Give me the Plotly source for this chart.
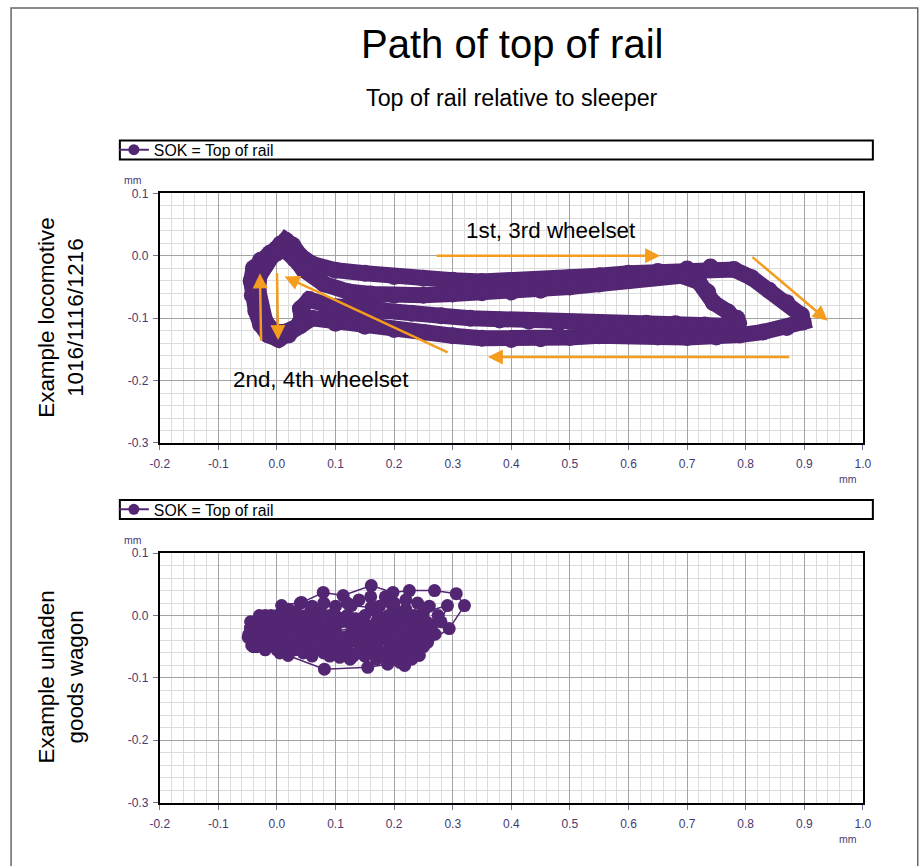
import plotly.graph_objects as go

# ---- Locomotive: path of top of rail (mm) ----
loco_x = [
    0.0, 0.006, 0.015, 0.027, 0.04, 0.06, 0.1, 0.15, 0.2, 0.25, 0.3, 0.35, 0.4,
    0.45, 0.5, 0.55, 0.6, 0.65, 0.7, 0.74, 0.78, 0.81, 0.84, 0.87, 0.895, 0.898,
    0.87, 0.83, 0.79, 0.75, 0.7, 0.65, 0.6, 0.55, 0.5, 0.45, 0.4, 0.35, 0.3,
    0.25, 0.2, 0.15, 0.1, 0.06,
    0.04, 0.02, 0.003, -0.015, -0.028, -0.036, -0.042, -0.044, -0.04, -0.028,
    -0.012, 0.0, 0.015, 0.03, 0.045,
    0.08, 0.12, 0.16, 0.2, 0.25, 0.3, 0.35, 0.4, 0.45, 0.5, 0.55, 0.6, 0.65, 0.69,
    0.72, 0.735, 0.745, 0.77, 0.785, 0.788, 0.765,
    0.73, 0.68, 0.63, 0.58, 0.53, 0.48, 0.43, 0.38, 0.33, 0.28, 0.23, 0.18, 0.13,
    0.09, 0.055,
    0.04, 0.042, 0.035, 0.015, -0.005, -0.02, -0.028, -0.032, -0.03, -0.02,
    -0.008, 0.0,
]
loco_y = [
    0.005, 0.019, 0.025, 0.017, 0.0, -0.013, -0.023, -0.028, -0.033, -0.036,
    -0.039, -0.041, -0.04, -0.038, -0.035, -0.032, -0.028, -0.025, -0.021,
    -0.018, -0.022, -0.035, -0.055, -0.075, -0.095, -0.106, -0.115, -0.122,
    -0.127, -0.13, -0.131, -0.13, -0.128, -0.128, -0.131, -0.133, -0.134,
    -0.132, -0.128, -0.123, -0.118, -0.113, -0.108, -0.1,
    -0.112, -0.127, -0.134, -0.127, -0.11, -0.088, -0.063, -0.04, -0.02, -0.007,
    0.004, 0.012, 0.008, -0.005, -0.022,
    -0.045, -0.057, -0.061, -0.063, -0.063, -0.061, -0.059, -0.058, -0.055,
    -0.05, -0.045, -0.04, -0.034, -0.032, -0.042, -0.058, -0.075, -0.09, -0.1,
    -0.108, -0.112,
    -0.111, -0.109, -0.108, -0.109, -0.111, -0.108, -0.105, -0.103, -0.1,
    -0.096, -0.092, -0.088, -0.085, -0.08, -0.07,
    -0.085, -0.1, -0.113, -0.122, -0.122, -0.105, -0.08, -0.055, -0.032,
    -0.015, 0.0, 0.005,
]

# ---- Unladen goods wagon: path of top of rail (mm) ----
wagon_x = [
    -0.045, -0.03, -0.01, 0.01, 0.04, 0.079, 0.113, 0.161, 0.198, 0.226, 0.269,
    0.306, 0.32, 0.294, 0.257, 0.243, 0.218, 0.189, 0.155, 0.081, 0.019, -0.02,
    -0.043,
    -0.049, -0.04, -0.02, 0.008, 0.042, 0.06, 0.09, 0.127, 0.161, 0.195, 0.22,
    0.25, 0.291, 0.28, 0.26, 0.235, 0.21, 0.18, 0.15, 0.107, 0.093, 0.06, 0.03,
    0.0, -0.03,
    -0.045, -0.035, -0.015, 0.01, 0.03, 0.05, 0.07, 0.1, 0.13, 0.16, 0.19, 0.21,
    0.235, 0.255, 0.27, 0.25, 0.225, 0.2, 0.17, 0.14, 0.12, 0.08, 0.05, 0.02,
    -0.01, -0.035,
    -0.04, -0.02, 0.0, 0.025, 0.05, 0.075, 0.1, 0.135, 0.17, 0.2, 0.22, 0.245,
    0.23, 0.205, 0.185, 0.2, 0.17, 0.14, 0.11, 0.075, 0.045, 0.015, -0.015,
    -0.04,
    -0.03, 0.0, 0.02, 0.06, 0.09, 0.12, 0.15, 0.175, 0.21, 0.24, 0.26, 0.23, 0.2,
    0.165, 0.13, 0.09, 0.06, 0.03, 0.0, -0.02, -0.045,
    -0.04, -0.025, -0.005, 0.015, 0.035, 0.055, 0.075, 0.095, 0.115, 0.135,
    0.155, 0.175, 0.195, 0.215, 0.235, 0.22, 0.2, 0.18, 0.16, 0.14, 0.12, 0.1,
    0.08, 0.06, 0.04, 0.02, 0.0, -0.02, -0.04,
    -0.045, -0.03, -0.01, 0.01, 0.03, 0.05, 0.07, 0.09, 0.11, 0.13, 0.15, 0.17,
    0.19, 0.21, 0.23, 0.215, 0.19, 0.165, 0.145, 0.125, 0.105, 0.085, 0.065,
    0.045, 0.025, 0.005, -0.015, -0.035, -0.048,
    -0.04, -0.02, 0.0, 0.02, 0.04, 0.06, 0.08, 0.1, 0.12, 0.14, 0.16, 0.18, 0.2,
    0.225, 0.24, 0.25, 0.23, 0.21, 0.19, 0.17, 0.15, 0.125, 0.105, 0.085, 0.065,
    0.045, 0.025, 0.005, -0.015, -0.035,
    0.2, 0.22, 0.24, 0.26, 0.275, 0.265, 0.25, 0.23, 0.24, 0.225, 0.205, 0.19,
    0.175, 0.16, 0.14, 0.12, 0.1, 0.08, 0.06, 0.04, 0.02, 0.0, -0.02,
]
wagon_y = [
    -0.02, -0.005, 0.0, 0.005, 0.02, 0.037, 0.032, 0.048, 0.037, 0.04, 0.04,
    0.035, 0.016, -0.021, -0.043, -0.064, -0.08, -0.078, -0.083, -0.086, -0.064,
    -0.05, -0.048,
    -0.035, -0.02, -0.01, 0.016, 0.021, -0.005, -0.01, 0.016, 0.013, 0.019, 0.01,
    0.005, 0.016, -0.01, -0.025, -0.04, -0.055, -0.06, -0.055, -0.067, -0.056,
    -0.05, -0.045, -0.04, -0.04,
    -0.03, -0.015, -0.02, -0.015, -0.02, -0.015, -0.02, -0.025, -0.02, -0.03,
    -0.02, -0.005, 0.0, -0.01, -0.03, -0.05, -0.06, -0.065, -0.07, -0.06, -0.045,
    -0.04, -0.035, -0.03, -0.035, -0.03,
    -0.04, -0.03, -0.025, -0.01, 0.0, 0.005, 0.0, -0.005, -0.01, -0.03, -0.04,
    -0.03, -0.015, 0.0, 0.03, 0.01, -0.045, -0.04, -0.05, -0.055, -0.06, -0.05,
    -0.045, -0.025,
    -0.01, -0.005, 0.0, 0.01, 0.0, -0.01, -0.015, -0.005, -0.02, -0.02, -0.035,
    -0.05, -0.045, -0.06, -0.065, -0.065, -0.06, -0.055, -0.055, -0.045, -0.02,
    -0.045, -0.05, -0.045, -0.04, -0.035, -0.04, -0.045, -0.04, -0.035, -0.03,
    -0.035, -0.04, -0.045, -0.05, -0.055, -0.065, -0.07, -0.065, -0.05, -0.045,
    -0.055, -0.06, -0.06, -0.065, -0.055, -0.06, -0.05, -0.055, -0.05,
    -0.01, 0.0, -0.01, -0.005, 0.005, -0.005, -0.01, -0.015, -0.01, -0.005, 0.0,
    0.005, 0.0, -0.01, -0.025, -0.035, -0.04, -0.025, -0.02, -0.03, -0.035,
    -0.03, -0.03, -0.025, -0.03, -0.035, -0.03, -0.04, -0.03,
    -0.015, -0.025, -0.015, -0.02, -0.01, -0.025, -0.015, -0.005, 0.0, -0.015,
    -0.02, -0.025, -0.01, -0.005, -0.01, -0.045, -0.07, -0.075, -0.055, -0.05,
    -0.065, -0.07, -0.05, -0.05, -0.045, -0.045, -0.05, -0.06, -0.04, -0.05,
    0.02, 0.025, 0.02, 0.015, 0.0, -0.015, -0.025, -0.035, -0.05, -0.045, -0.03,
    -0.015, 0.015, 0.03, 0.025, 0.02, 0.015, 0.02, 0.015, 0.0, 0.01, 0.0, 0.0,
]

# ---- Axis ticks ----
x_ticks = [-0.2, -0.1, 0.0, 0.1, 0.2, 0.3, 0.4, 0.5, 0.6, 0.7, 0.8, 0.9, 1.0]
x_tick_text = ["-0.2", "-0.1", "0.0", "0.1", "0.2", "0.3", "0.4", "0.5", "0.6",
               "0.7", "0.8", "0.9", "1.0"]
y_ticks = [0.1, 0.0, -0.1, -0.2, -0.3]
y_tick_text = ["0.1", "0.0", "-0.1", "-0.2", "-0.3"]

# Direction arrows on the locomotive panel: (tail_x, tail_y, head_x, head_y)
loco_arrows = [
    (0.270, 0.0, 0.654, 0.0),
    (0.809, 0.0, 0.940, -0.104),
    (0.877, -0.162, 0.360, -0.162),
    (0.294, -0.156, 0.013, -0.033),
    (-0.027, -0.138, -0.029, -0.028),
    (0.0, -0.025, 0.002, -0.135),
]

PURPLE = "#532673"
ORANGE = "#F39C1E"
TICK_COLOR = "#463a6e"
FONT = "Liberation Sans, Arial, sans-serif"

# Figure size; layout positions are given as page pixels and converted to
# paper fractions, allowing for the page body margin and the view scale.
W, H = 923, 866
BODY_MARGIN = 8
VIEW_SCALE = 0.982


def px_x(p):
    return (p / VIEW_SCALE - BODY_MARGIN) / W


def px_y(p):
    return 1 - (p / VIEW_SCALE - BODY_MARGIN) / H


fig = go.Figure()

fig.add_trace(go.Scatter(
    x=loco_x, y=loco_y, mode="lines+markers", xaxis="x", yaxis="y",
    line=dict(color=PURPLE, width=16),
    marker=dict(color=PURPLE, size=17),
    showlegend=False, hoverinfo="x+y",
))
fig.add_trace(go.Scatter(
    x=wagon_x, y=wagon_y, mode="lines+markers", xaxis="x2", yaxis="y2",
    line=dict(color=PURPLE, width=1.5),
    marker=dict(color=PURPLE, size=13),
    showlegend=False, hoverinfo="x+y",
))
# legend entries for the two panels
for lg in ("legend", "legend2"):
    fig.add_trace(go.Scatter(
        x=[None], y=[None], mode="lines+markers", name="SOK = Top of rail",
        line=dict(color=PURPLE, width=2), marker=dict(color=PURPLE, size=11),
        legend=lg, xaxis="x" if lg == "legend" else "x2",
        yaxis="y" if lg == "legend" else "y2",
    ))

axis_common = dict(
    showline=True, linecolor="black", linewidth=2, mirror=True,
    ticks="outside", ticklen=5, tickwidth=1, tickcolor="#7a6e96",
    showgrid=True, gridcolor="#a3a3a3", gridwidth=1,
    zeroline=False,
    tickfont=dict(family=FONT, size=12, color=TICK_COLOR),
)
x_common = dict(axis_common, range=[-0.2, 1.0], tickvals=x_ticks,
                ticktext=x_tick_text,
                minor=dict(dtick=0.02, showgrid=True, gridcolor="#dcdcdc",
                           gridwidth=1, ticks=""),
                ticklabelstandoff=4)
y_common = dict(axis_common, range=[-0.3, 0.1], tickvals=y_ticks,
                ticktext=y_tick_text,
                minor=dict(dtick=0.02, showgrid=True, gridcolor="#dcdcdc",
                           gridwidth=1, ticks=""),
                ticklabelstandoff=2)

top_px, bot_px = (194, 443), (553, 802)

fig.update_layout(
    width=W, height=H, margin=dict(l=0, r=0, t=0, b=0),
    paper_bgcolor="white", plot_bgcolor="white",
    font=dict(family=FONT, color="black"),
    xaxis=dict(x_common, domain=[px_x(158), px_x(863)], anchor="y"),
    yaxis=dict(y_common, domain=[px_y(top_px[1]), px_y(top_px[0])], anchor="x"),
    xaxis2=dict(x_common, domain=[px_x(158), px_x(863)], anchor="y2"),
    yaxis2=dict(y_common, domain=[px_y(bot_px[1]), px_y(bot_px[0])], anchor="x2"),
    legend=dict(x=px_x(112), y=px_y(150.5), xanchor="left", yanchor="middle",
                bgcolor="rgba(0,0,0,0)", borderwidth=0,
                font=dict(family=FONT, size=15.8, color="black")),
    legend2=dict(x=px_x(112), y=px_y(509.5), xanchor="left", yanchor="middle",
                 bgcolor="rgba(0,0,0,0)", borderwidth=0,
                 font=dict(family=FONT, size=15.8, color="black")),
    showlegend=True,
)

shapes = [
    # outer frame
    dict(type="rect", xref="paper", yref="paper", x0=0.0012, x1=px_x(918),
         y0=-0.05, y1=0.9988, line=dict(color="#666666", width=1.5)),
    # legend boxes
    dict(type="rect", xref="paper", yref="paper", x0=px_x(118), x1=px_x(873),
         y0=px_y(160), y1=px_y(141), line=dict(color="black", width=2)),
    dict(type="rect", xref="paper", yref="paper", x0=px_x(118), x1=px_x(873),
         y0=px_y(519), y1=px_y(500), line=dict(color="black", width=2)),
]
fig.update_layout(shapes=shapes)


def label(text, x, y, size, color="black", angle=0):
    return dict(text=text, x=px_x(x), y=px_y(y), xref="paper", yref="paper",
                xanchor="center", yanchor="middle", showarrow=False,
                textangle=angle, font=dict(size=size, color=color, family=FONT))


ann = [
    label("Path of top of rail", 511, 45, 40),
    label("Top of rail relative to sleeper", 511, 99, 23.3),
    label("Example locomotive<br>1016/1116/1216", 59, 318, 22.4, angle=-90),
    label("Example unladen<br>goods wagon", 59, 677, 22.4, angle=-90),
    dict(text="1st, 3rd wheelset", x=0.467, y=0.04, xref="x", yref="y",
         xanchor="center", yanchor="middle", showarrow=False,
         font=dict(size=22.4, family=FONT)),
    dict(text="2nd, 4th wheelset", x=0.076, y=-0.199, xref="x", yref="y",
         xanchor="center", yanchor="middle", showarrow=False,
         font=dict(size=22.4, family=FONT)),
]
for top in (0, 359):
    ann.append(label("mm", 131, 181 + top, 10.5, TICK_COLOR))
    ann.append(label("mm", 848, 479 + top, 10.5, TICK_COLOR))
for tx, ty, hx, hy in loco_arrows:
    ann.append(dict(x=hx, y=hy, ax=tx, ay=ty, xref="x", yref="y", axref="x",
                    ayref="y", text="", showarrow=True, arrowhead=2,
                    arrowsize=1.2, arrowwidth=2.5, arrowcolor=ORANGE))
fig.update_layout(annotations=ann)

fig.write_html("out.html")
